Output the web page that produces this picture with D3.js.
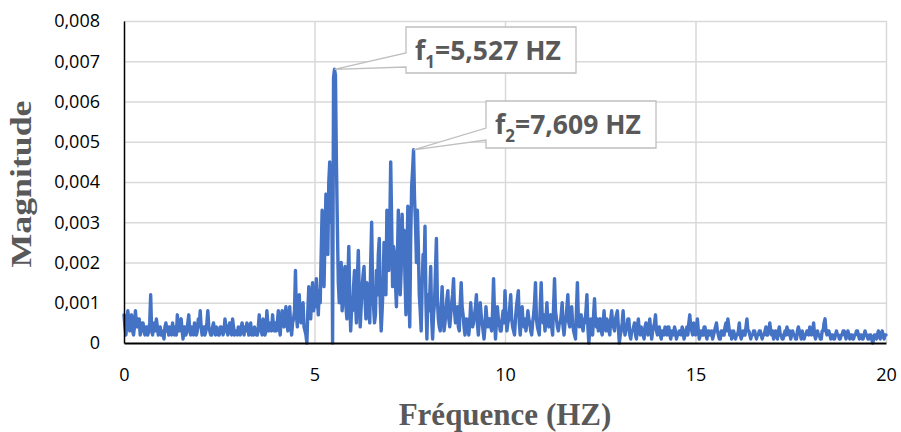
<!DOCTYPE html>
<html>
<head>
<meta charset="utf-8">
<script src="https://cdn.jsdelivr.net/npm/d3@7"></script>
<style>
  body { margin: 0; background: #fff; }
</style>
</head>
<body>
<svg id="chart" width="901" height="432"></svg>
<script>
// Spectrum samples every 0.025 Hz, one row per Hz, magnitude in units of 1e-4
const freqStep = 0.025;
const magUnit = 1e-4;
const magnitude = [
  [7, 4, 2, 5, 8, 6, 3, 5, 7, 3, 2, 4, 8, 5, 4, 6, 6, 2, 3, 5, 5, 3, 2, 4, 4, 2, 3, 5, 12, 3, 2, 4, 5, 3, 6, 4, 2, 3, 4, 2],
  [3, 2, 1, 4, 5, 3, 4, 2, 4, 3, 2, 5, 3, 2, 4, 2, 7, 4, 3, 5, 6, 3, 1, 4, 4, 2, 3, 5, 7, 3, 2, 4, 3, 2, 5, 4, 2, 3, 6, 4],
  [8, 4, 2, 3, 4, 2, 3, 5, 8, 4, 3, 2, 2, 4, 5, 3, 2, 4, 3, 2, 2, 4, 4, 3, 2, 3, 6, 4, 3, 2, 4, 5, 3, 2, 6, 4, 2, 3, 3, 2],
  [4, 3, 2, 4, 5, 3, 2, 4, 3, 5, 4, 2, 3, 5, 2, 3, 2, 4, 3, 2, 2, 4, 7, 3, 3, 2, 6, 4, 2, 3, 8, 5, 3, 4, 5, 3, 7, 4, 3, 5],
  [3, 5, 8, 4, 2, 6, 8, 5, 4, 7, 9, 5, 3, 6, 9, 4, 2, 5, 6, 8, 18, 7, 4, 9, 12, 6, 5, 8, 10, 4, 3, 2, 0, 8, 14, 9, 6, 11, 15, 8],
  [12, 9, 16, 11, 7, 13, 10, 22, 33, 18, 14, 26, 37, 30, 22, 40, 45, 30, 44, 0, 66, 68, 66.5, 45, 29, 15, 10, 16, 20, 8, 12, 17, 19, 9, 6, 15, 24, 11, 3, 9],
  [8, 14, 18, 10, 5, 16, 23, 12, 4, 9, 14, 17, 19, 11, 6, 15, 12, 8, 5, 20, 30, 14, 9, 5, 7, 18, 12, 22, 26, 10, 3, 8, 14, 25, 21, 12, 33, 24, 18, 29],
  [45, 30, 14, 24, 22, 15, 9, 20, 33, 25, 12, 18, 32, 22, 28, 16, 7, 20, 34, 15, 4, 26, 39, 43, 48, 36, 30, 20, 33, 24, 12, 8, 3, 14, 22, 18, 29, 10, 1, 12],
  [8, 12, 19, 6, 1, 7, 10, 18, 26, 11, 6, 4, 3, 9, 14, 7, 3, 5, 8, 11, 13, 6, 4, 7, 10, 12, 16, 8, 5, 7, 9, 4, 3, 10, 15, 9, 7, 4, 2, 6],
  [6, 4, 2, 5, 10, 6, 4, 5, 7, 9, 12, 5, 2, 6, 10, 7, 5, 3, 1, 4, 9, 6, 4, 5, 6, 4, 3, 8, 16, 7, 1, 5, 9, 6, 5, 3, 3, 6, 8, 5],
  [13, 7, 3, 5, 6, 9, 12, 6, 4, 3, 2, 6, 9, 11, 13, 5, 2, 6, 9, 5, 4, 6, 3, 5, 8, 6, 5, 3, 2, 5, 7, 10, 15, 6, 4, 3, 2, 9, 15, 7],
  [5, 7, 3, 6, 10, 5, 4, 6, 7, 4, 2, 9, 16, 8, 6, 4, 3, 5, 5, 7, 10, 4, 2, 5, 6, 9, 12, 5, 4, 6, 9, 5, 3, 2, 1, 8, 15, 6, 4, 6],
  [7, 4, 3, 6, 5, 8, 12, 4, 0, 3, 6, 4, 2, 7, 11, 5, 4, 6, 3, 5, 6, 3, 2, 5, 8, 4, 3, 6, 5, 3, 2, 6, 8, 5, 4, 3, 6, 7, 8, 4],
  [0, 2, 3, 5, 8, 4, 2, 3, 4, 6, 6, 2, 1, 3, 3, 4, 5, 2, 1, 4, 6, 3, 2, 4, 3, 2, 1, 4, 5, 3, 2, 4, 6, 3, 1, 3, 4, 5, 7, 3],
  [2, 3, 4, 2, 1, 3, 3, 2, 4, 3, 2, 4, 4, 2, 1, 3, 3, 2, 4, 3, 1, 2, 2, 3, 3, 2, 4, 3, 1, 2, 3, 4, 2, 5, 7, 4, 3, 2, 5, 3],
  [2, 4, 6, 3, 1, 2, 3, 2, 2, 4, 4, 2, 1, 3, 3, 2, 2, 3, 1, 2, 3, 4, 5, 3, 2, 1, 1, 3, 3, 2, 2, 4, 5, 3, 6, 4, 2, 3, 1, 2],
  [3, 2, 1, 2, 2, 3, 5, 2, 1, 2, 3, 2, 2, 4, 6, 3, 3, 2, 1, 2, 2, 3, 3, 2, 1, 2, 2, 3, 3, 2, 1, 2, 2, 3, 4, 2, 2, 3, 5, 3],
  [2, 3, 1, 2, 3, 2, 1, 3, 4, 2, 2, 1, 1, 2, 3, 2, 4, 3, 2, 3, 1, 2, 3, 2, 2, 1, 1, 3, 4, 3, 2, 1, 3, 2, 1, 2, 2, 3, 3, 2],
  [4, 3, 2, 3, 5, 2, 1, 2, 3, 2, 2, 1, 1, 3, 3, 5, 6, 3, 2, 3, 3, 2, 1, 2, 2, 1, 1, 2, 3, 2, 2, 1, 1, 2, 2, 3, 3, 2, 1, 2],
  [3, 2, 1, 2, 2, 1, 1, 2, 2, 3, 3, 2, 1, 2, 2, 1, 1, 2, 3, 2, 2, 1, 1, 2, 2, 1, 0, 1, 2, 2, 1, 2, 3, 2, 1, 2, 3, 2, 1, 2],
  [2]
];

const xTicks = [0, 5, 10, 15, 20];
const yTicks = [0, 0.001, 0.002, 0.003, 0.004, 0.005, 0.006, 0.007, 0.008];

// Annotated peaks
const peakIds = ["1", "2"];
const peakFreqs = [5.527, 7.609];

// Plot area
const plotLeft = 124, plotRight = 886, plotTop = 21, plotBottom = 343;
const sans = "'Open Sans', sans-serif";
const serif = "'Liberation Serif', 'Times New Roman', serif";

const fr = d3.formatLocale({ decimal: ",", thousands: " ", grouping: [3], currency: ["", ""] });
const fmtY = d => d === 0 ? "0" : fr.format(".3f")(d);
const fmtF = fr.format(".3f");

const points = magnitude.flat().map((m, i) => ({ f: i * freqStep, m: m * magUnit }));

const x = d3.scaleLinear().domain([0, 20]).range([plotLeft, plotRight]);
const y = d3.scaleLinear().domain([0, 0.008]).range([plotBottom, plotTop]);

const svg = d3.select("#chart");

// Gridlines
svg.append("g")
  .attr("transform", `translate(${plotLeft},0)`)
  .call(d3.axisLeft(y).tickValues(yTicks.slice(1)).tickSize(-(plotRight - plotLeft)).tickFormat(""))
  .call(g => g.select(".domain").remove())
  .call(g => g.selectAll("line").attr("stroke", "#d9d9d9").attr("stroke-width", 1.5));

svg.append("g")
  .attr("transform", `translate(0,${plotBottom})`)
  .call(d3.axisBottom(x).tickValues(xTicks.slice(1)).tickSize(-(plotBottom - plotTop)).tickFormat(""))
  .call(g => g.select(".domain").remove())
  .call(g => g.selectAll("line").attr("stroke", "#d9d9d9").attr("stroke-width", 1.5));

// Spectrum line
const line = d3.line().x(d => x(d.f)).y(d => y(d.m));

svg.append("path")
  .datum(points)
  .attr("fill", "none")
  .attr("stroke", "#4472c4")
  .attr("stroke-width", 3.4)
  .attr("stroke-linejoin", "round")
  .attr("stroke-linecap", "round")
  .attr("d", line);

// Axes
svg.append("g")
  .attr("transform", `translate(${plotLeft},0)`)
  .call(d3.axisLeft(y).tickValues(yTicks).tickSize(0).tickPadding(24).tickFormat(fmtY))
  .call(g => g.select(".domain").attr("stroke", "#000").attr("stroke-width", 1.5))
  .call(g => g.selectAll("text").style("font-size", "18px").style("font-family", sans).attr("fill", "#000"));

svg.append("g")
  .attr("transform", `translate(0,${plotBottom})`)
  .call(d3.axisBottom(x).tickValues(xTicks).tickSize(0).tickPadding(25))
  .call(g => g.select(".domain").attr("stroke", "#000").attr("stroke-width", 2))
  .call(g => g.selectAll("text").style("font-size", "18px").style("font-family", sans).attr("fill", "#000"));

// Axis titles
svg.append("text")
  .attr("x", 505)
  .attr("y", 425)
  .attr("text-anchor", "middle")
  .style("font-family", serif)
  .style("font-weight", "bold")
  .style("font-size", "31px")
  .attr("fill", "#595959")
  .text("Fréquence (HZ)");

svg.append("text")
  .attr("transform", "translate(31,184) rotate(-90)")
  .attr("text-anchor", "middle")
  .style("font-family", serif)
  .style("font-weight", "bold")
  .style("font-size", "29px")
  .attr("textLength", 167)
  .attr("lengthAdjust", "spacingAndGlyphs")
  .attr("fill", "#595959")
  .text("Magnitude");

// Callouts
const boxes = [
  { x: 406, y: 27, w: 170, h: 46, w0: 53, w1: 67 },
  { x: 486, y: 101, w: 170, h: 47, w0: 128, w1: 140 }
];

peakFreqs.forEach((pf, k) => {
  const p = points.reduce((a, b) => Math.abs(b.f - pf) < Math.abs(a.f - pf) ? b : a);
  const b = boxes[k];
  const px = x(p.f), py = y(p.m);
  const path = d3.path();
  path.moveTo(b.x, b.y);
  path.lineTo(b.x + b.w, b.y);
  path.lineTo(b.x + b.w, b.y + b.h);
  path.lineTo(b.x, b.y + b.h);
  path.lineTo(b.x, b.w1);
  path.lineTo(px, py);
  path.lineTo(b.x, b.w0);
  path.closePath();

  svg.append("path")
    .attr("d", path.toString())
    .attr("fill", "#fff")
    .attr("stroke", "#bfbfbf")
    .attr("stroke-width", 1.3);

  const t = svg.append("text")
    .attr("x", b.x + 9)
    .attr("y", b.y + 33)
    .style("font-family", sans)
    .style("font-size", "26.5px")
    .style("font-weight", "bold")
    .attr("fill", "#595959");
  t.append("tspan").text("f");
  t.append("tspan").style("font-size", "17px").attr("dy", 8).text(peakIds[k]);
  t.append("tspan").attr("dy", -8).text("=" + fmtF(pf) + " HZ");
});
</script>
</body>
</html>
